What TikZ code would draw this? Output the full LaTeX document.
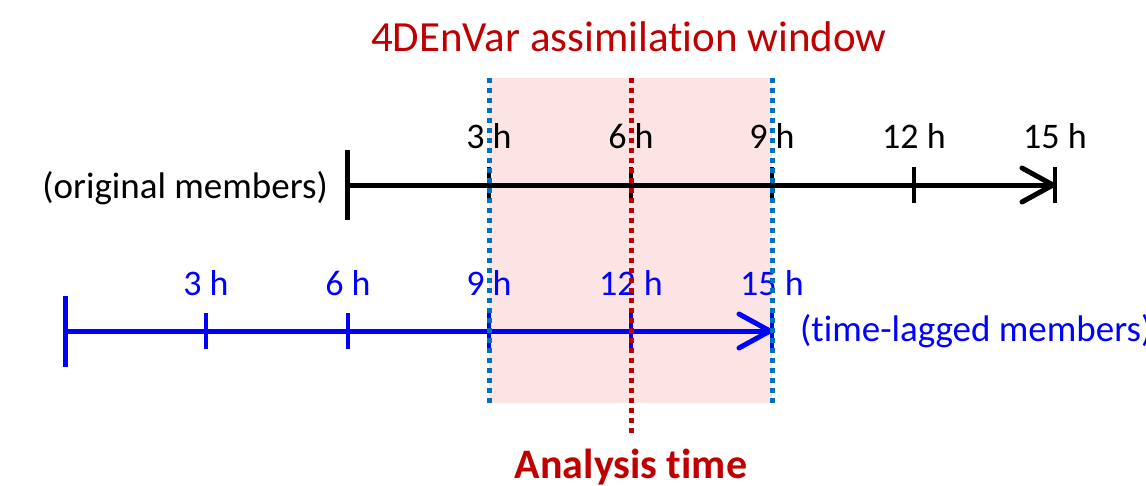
\documentclass[tikz,border=0pt]{standalone}
\usepackage{fontspec}
\setmainfont[Ligatures=NoCommon]{Carlito}
\usetikzlibrary{calc}
\definecolor{winred}{HTML}{C00000}
\definecolor{winblue}{HTML}{0070C0}
\definecolor{winpink}{HTML}{FDE4E4}
\definecolor{lagblue}{HTML}{0000FF}
\begin{document}
\begin{tikzpicture}[x=1pt,y=-1pt,
  axis/.style={line width=5pt},
  tick/.style={line width=3.5pt},
  chevron/.style={line width=5pt,line cap=round,line join=round},
  hlabel/.style={anchor=base,inner sep=0pt,font=\fontsize{36}{40}\selectfont},
  sidetext/.style={inner sep=0pt,font=\fontsize{37}{42}\selectfont},
  bluedots/.style={winblue,line width=5pt,dash pattern=on 5pt off 5pt},
  reddots/.style={winred,line width=5pt,dash pattern=on 5pt off 5pt}]
\useasboundingbox (0,0) rectangle (1146,485);
\clip (0,0) rectangle (1146,485);

% assimilation window
\fill[winpink] (489,78) rectangle (772,403);

% original members: 0 h .. 15 h
\coordinate (o0) at (347,185);
\coordinate (o3) at (489,185);
\coordinate (o6) at (631,185);
\coordinate (o9) at (772,185);
\coordinate (o12) at (914,185);
\coordinate (o15) at (1055,185);
\draw[axis] (o0) -- (o15);
\draw[axis] ($(o0)+(0,-35)$) -- ($(o0)+(0,35)$);
\foreach \p in {o3,o6,o9,o12,o15}
  \draw[tick] ($(\p)+(0,-18)$) -- ($(\p)+(0,18)$);
\draw[chevron] ($(o15)+(-33,-17)$) -- ($(o15)+(-2,0)$) -- ($(o15)+(-33,17)$);
\foreach \p/\t in {o3/3,o6/6,o9/9,o12/12,o15/15}
  \node[hlabel] (l\p) at ($(\p)+(0,-37)$) {\t{} h};
\node[sidetext,anchor=east] (origtxt) at (328,188) {(original members)};

% time-lagged members: 0 h .. 15 h
\coordinate (b0) at (65,331);
\coordinate (b3) at (206,331);
\coordinate (b6) at (348,331);
\coordinate (b9) at (489,331);
\coordinate (b12) at (631,331);
\coordinate (b15) at (772,331);
\begin{scope}[lagblue]
\draw[axis] (b0) -- (b15);
\draw[axis] ($(b0)+(0,-35)$) -- ($(b0)+(0,36)$);
\foreach \p in {b3,b6,b9,b12,b15}
  \draw[tick] ($(\p)+(0,-18)$) -- ($(\p)+(0,18)$);
\draw[chevron] ($(b15)+(-33,-17)$) -- ($(b15)+(-2,0)$) -- ($(b15)+(-33,17)$);
\foreach \p/\t in {b3/3,b6/6,b9/9,b12/12,b15/15}
  \node[hlabel,text=lagblue] (l\p) at ($(\p)+(0,-36)$) {\t{} h};
\node[sidetext,anchor=west,text=lagblue] (lagtxt) at (800,331) {(time-lagged members)};
\end{scope}

% window bounds and analysis time
\draw[bluedots] (489,78) -- (489,403);
\draw[bluedots] (772,78) -- (772,403);
\draw[reddots] (631,78) -- (631,436);

\node[anchor=base,inner sep=0pt,text=winred,font=\fontsize{43}{48}\selectfont] (title) at (629,51) {4DEnVar assimilation window};
\node[anchor=base,inner sep=0pt,text=winred,font=\fontsize{42}{48}\selectfont\bfseries] (analysis) at (631,478) {Analysis time};
\end{tikzpicture}
\end{document}
